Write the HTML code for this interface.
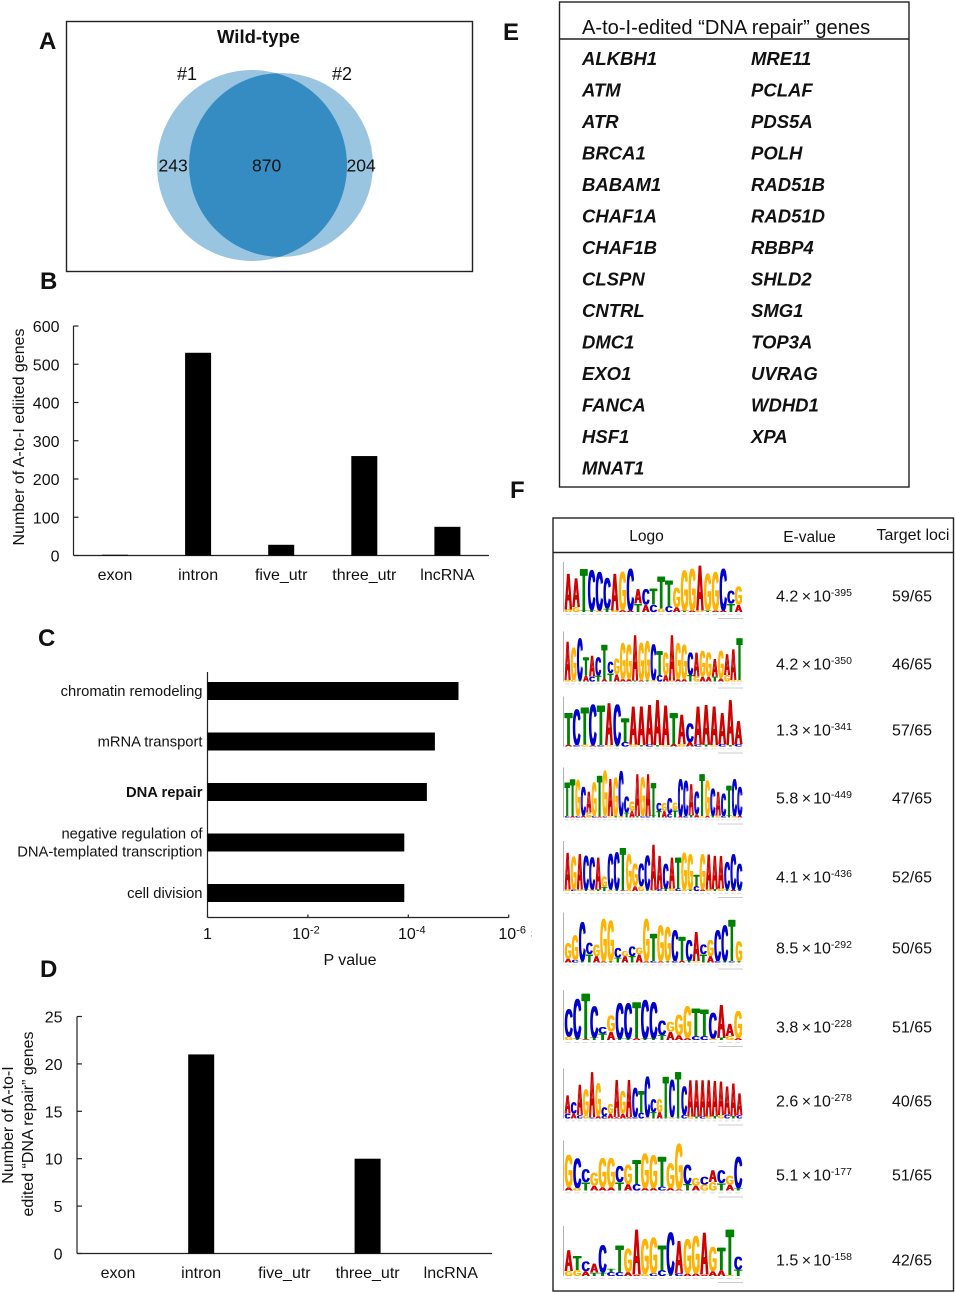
<!DOCTYPE html>
<html lang="en">
<head>
<meta charset="utf-8">
<title>A-to-I editing figure</title>
<style>
html,body{margin:0;padding:0;background:#fff;}
svg{display:block;position:absolute;left:0;top:0;}
text{font-family:"Liberation Sans",Arial,sans-serif;fill:#111;}
.plabel{font-size:24px;font-weight:bold;fill:#111;}
.gene{font-size:18.5px;font-weight:bold;font-style:italic;fill:#111;}
.logo-letter{font-weight:bold;font-size:100px;text-anchor:middle;text-rendering:geometricPrecision;}
</style>
</head>
<body>
<svg id="fig" width="955" height="1293" viewBox="0 0 955 1293" xmlns="http://www.w3.org/2000/svg">
  <defs>
    <clipPath id="clip-left"><ellipse cx="252" cy="165.5" rx="95" ry="95.5"/></clipPath>
    <filter id="soft" x="-2%" y="-4%" width="104%" height="108%">
      <feOffset in="SourceGraphic" dx="1" dy="0" result="shifted"/>
      <feMerge result="fat"><feMergeNode in="SourceGraphic"/><feMergeNode in="shifted"/></feMerge>
      <feGaussianBlur in="fat" stdDeviation="0.35"/>
    </filter>
  </defs>
  <rect width="955" height="1293" fill="#fff"/>

  <text class="plabel" x="39" y="49">A</text>
  <text class="plabel" x="40" y="289">B</text>
  <text class="plabel" x="38" y="646">C</text>
  <text class="plabel" x="40" y="977">D</text>
  <text class="plabel" x="503" y="40">E</text>
  <text class="plabel" x="510" y="498">F</text>

  <g>
    <rect x="66.5" y="21.5" width="406" height="250" fill="none" stroke="#222" stroke-width="1.4"/>
    <text x="217" y="43" font-size="18.5" font-weight="bold">Wild-type</text>
    <ellipse cx="252" cy="165.5" rx="95" ry="95.5" fill="#9ac5e0"/>
    <circle cx="281" cy="165" r="92" fill="#9ac5e0"/>
    <circle cx="281" cy="165" r="92" fill="#358cc2" clip-path="url(#clip-left)"/>
    <text x="177" y="80" font-size="18">#1</text>
    <text x="332" y="80" font-size="18">#2</text>
    <text x="158.500" y="171.500" font-size="17.5">243</text>
    <text x="252" y="171.500" font-size="17.5">870</text>
    <text x="346.500" y="171.500" font-size="17.5">204</text>
  </g>

  <g id="chart-b"></g>
  <g id="chart-c"></g>
  <g id="chart-d"></g>

  <text x="530.500" y="936" font-size="8" style="fill:#999">;</text>

  <g>
    <rect x="559.500" y="2" width="349.500" height="485" fill="none" stroke="#222" stroke-width="1.4"/>
    <line x1="559.500" y1="39" x2="909" y2="39" stroke="#222" stroke-width="1.4"/>
    <text x="582" y="34" font-size="20.100">A-to-I-edited “DNA repair” genes</text>
    <g>
      <text class="gene" x="582" y="65">ALKBH1</text>
      <text class="gene" x="582" y="96.500">ATM</text>
      <text class="gene" x="582" y="128">ATR</text>
      <text class="gene" x="582" y="159.500">BRCA1</text>
      <text class="gene" x="582" y="191">BABAM1</text>
      <text class="gene" x="582" y="222.500">CHAF1A</text>
      <text class="gene" x="582" y="254">CHAF1B</text>
      <text class="gene" x="582" y="285.500">CLSPN</text>
      <text class="gene" x="582" y="317">CNTRL</text>
      <text class="gene" x="582" y="348.500">DMC1</text>
      <text class="gene" x="582" y="380">EXO1</text>
      <text class="gene" x="582" y="411.500">FANCA</text>
      <text class="gene" x="582" y="443">HSF1</text>
      <text class="gene" x="582" y="474.500">MNAT1</text>
    </g>
    <g>
      <text class="gene" x="751" y="65">MRE11</text>
      <text class="gene" x="751" y="96.500">PCLAF</text>
      <text class="gene" x="751" y="128">PDS5A</text>
      <text class="gene" x="751" y="159.500">POLH</text>
      <text class="gene" x="751" y="191">RAD51B</text>
      <text class="gene" x="751" y="222.500">RAD51D</text>
      <text class="gene" x="751" y="254">RBBP4</text>
      <text class="gene" x="751" y="285.500">SHLD2</text>
      <text class="gene" x="751" y="317">SMG1</text>
      <text class="gene" x="751" y="348.500">TOP3A</text>
      <text class="gene" x="751" y="380">UVRAG</text>
      <text class="gene" x="751" y="411.500">WDHD1</text>
      <text class="gene" x="751" y="443">XPA</text>
    </g>
  </g>

  <g>
    <rect x="553" y="518" width="400.500" height="773" fill="none" stroke="#222" stroke-width="1.4"/>
    <line x1="553" y1="552.500" x2="953.500" y2="552.500" stroke="#222" stroke-width="1.4"/>
    <text x="646.500" y="541" font-size="15.500" text-anchor="middle">Logo</text>
    <text x="809.500" y="542" font-size="15.500" text-anchor="middle">E-value</text>
    <text x="913" y="540" font-size="16" text-anchor="middle">Target loci</text>
    <g id="logos"></g>
    <g id="rows"></g>
  </g>
</svg>

<script>
// Panel B data
const bCategories = ["exon", "intron", "five_utr", "three_utr", "lncRNA"];
const bValues = [2, 530, 28, 260, 75];
const bTicks = [0, 100, 200, 300, 400, 500, 600];

// Panel C data (exponent n in P = 10^-n)
const cCategories = [["chromatin remodeling"], ["mRNA transport"], ["DNA repair"], ["negative regulation of", "DNA-templated transcription"], ["cell division"]];
const cExponents = [5.0, 4.53, 4.37, 3.92, 3.92];
const cTicks = [0, 2, 4, 6];

// Panel D data
const dCategories = ["exon", "intron", "five_utr", "three_utr", "lncRNA"];
const dValues = [0, 21, 0, 10, 0];
const dTicks = [0, 5, 10, 15, 20, 25];

// Panel F data: statistics
const fMantissas = ["4.2", "4.2", "1.3", "5.8", "4.1", "8.5", "3.8", "2.6", "5.1", "1.5"];
const fExponents = ["-395", "-350", "-341", "-449", "-436", "-292", "-228", "-278", "-177", "-158"];
const fTargets = ["59/65", "46/65", "57/65", "47/65", "52/65", "50/65", "51/65", "40/65", "51/65", "42/65"];

// Panel F data: logos. Stack heights are relative, 150 = 2 bits.
const logoUpper = [
  "AATCCCAGCACTTTGGGAGGCCG",
  "AGCTACTCGGGAGGCTGAGGCAGGAGAAT",
  "TCTCTACTAAAAATACAAAAAA",
  "TTGCAGTGAGCCGAGATCGCGCCACTGCACTCC",
  "AGACCAGCCTGGCCAACATGGTGAAACCC",
  "GGCCGGGCGCGGTGGCTCACGCCTG",
  "CCTCCGCCTCCCGGGTTCAAG",
  "ACAGAGCGAGACTCCGTCTCAAAAAAAAA",
  "GCCGGGCGTGGTGGCGCACGC",
  "ATCACTTGAGGTCAGGAGTTC"
];
const logoTotals = [
  [120,105,135,130,125,105,120,125,135,70,70,72,110,98,75,130,135,145,120,125,135,65,78],
  [125,105,135,75,80,75,115,60,70,120,115,145,120,125,115,95,90,145,120,115,90,90,95,90,70,95,85,100,135],
  [105,115,122,130,128,135,130,88,125,125,130,145,128,105,100,72,125,130,125,105,145,80],
  [110,120,118,95,80,110,130,145,120,125,145,65,50,135,125,135,108,45,45,60,45,120,115,105,80,135,115,90,80,75,100,120,95],
  [120,108,115,110,105,105,45,115,120,135,115,85,85,110,145,110,85,105,105,120,115,50,115,115,110,110,90,115,85],
  [60,85,125,60,55,135,130,45,35,50,45,135,90,115,110,100,80,70,95,55,70,100,115,133,65],
  [95,128,145,105,40,75,115,115,118,125,118,60,55,78,105,98,95,85,110,50,90],
  [72,50,105,90,145,110,35,45,120,85,120,95,85,130,60,60,130,120,145,100,120,120,120,120,118,115,100,110,78],
  [110,100,65,55,100,100,75,80,95,115,110,105,85,145,80,38,42,62,62,45,105],
  [80,62,45,38,95,22,95,85,145,115,120,95,135,110,115,125,135,90,88,145,60]
];
const logoLower = [
  "GGTTGTGAATACGCATAGTAATA",
  "GGTACTATAAATATGCAGAATGAATAGGG",
  "ACGACGTCGTCTGAGACTGCTC",
  "CACAGCACGTGTATCCTTACTACTAGATGCTGA",
  "GCGTGTTGTAGAGTGCTGCGTCAGTGTAT",
  "ACTTAATTATAACATCATGTACTCT",
  "GTATTATTATTTAAACCGTGA",
  "CACGCACAAAACCGTATGTCGTCGTGCTC",
  "AGTAAATACAACAATAGGTAT",
  "GGATTCCAAGCCTCAAAAAGT"
];
const logoLowerHeights = [
  [8,15,5,6,5,10,5,6,5,25,22,22,10,18,15,5,5,4,5,5,5,25,22],
  [5,6,5,18,15,18,8,25,22,8,8,3,4,4,4,20,20,3,8,8,20,15,15,15,15,10,20,4,4],
  [6,4,6,4,4,4,4,14,6,4,6,4,4,8,8,14,6,6,4,8,4,8],
  [5,5,5,6,15,5,4,4,4,5,5,15,20,4,4,4,8,20,20,12,22,5,5,8,10,4,6,6,6,5,8,5,6],
  [5,5,4,5,5,5,12,4,4,3,5,15,15,4,3,6,8,8,8,5,5,15,5,5,6,8,6,5,5],
  [12,8,4,25,20,4,4,15,20,20,25,4,5,4,4,4,6,6,4,25,20,4,4,4,4],
  [10,5,3,8,20,25,5,5,6,5,5,15,25,15,6,12,12,5,8,12,6],
  [15,15,10,10,4,8,8,15,4,15,4,4,18,4,20,20,4,4,4,12,6,6,6,6,8,10,12,8,10],
  [10,8,25,15,10,10,25,20,20,8,8,12,8,4,20,15,18,25,22,18,8],
  [15,18,15,10,10,12,12,12,4,6,8,18,4,8,8,8,4,15,18,3,20]
];

const SVGNS = "http://www.w3.org/2000/svg";
function el(tag, attrs, parent, txt) {
  const n = document.createElementNS(SVGNS, tag);
  for (const k in attrs) n.setAttribute(k, attrs[k]);
  if (txt !== undefined) n.textContent = txt;
  parent.appendChild(n);
  return n;
}
function slug(s) { return String(s).toLowerCase().replace(/[^a-z0-9]+/g, "-"); }

function columnChart(parentId, cats, vals, ticks, g) {
  const parent = document.getElementById(parentId);
  const yScale = v => g.y0 - (v - ticks[0]) / (ticks[ticks.length - 1] - ticks[0]) * (g.y0 - g.yTop);
  const xScale = i => g.x0cat + i * g.step;
  const yAxis = el("line", {x1: g.ax, y1: g.yTop, x2: g.ax, y2: g.y0, stroke: "#222", "stroke-width": 1.2}, parent);
  
  
  const xAxis = el("line", {x1: g.ax, y1: g.y0, x2: g.axEnd, y2: g.y0, stroke: "#222", "stroke-width": 1.2}, parent);
  
  
  ticks.forEach(t => {
    const y = yScale(t);
    const tick = el("line", {x1: g.ax, y1: y, x2: g.ax + 5, y2: y, stroke: "#222", "stroke-width": 1.2}, parent);
    
    
    const lab = el("text", {x: g.tickRight, y: y + 6, "font-size": 16, "text-anchor": "end"}, parent, String(t));
    
    
  });
  cats.forEach((c, i) => {
    const top = yScale(vals[i]);
    const bar = el("rect", {x: xScale(i) - 13, y: top, width: 26, height: g.y0 - top, fill: "#000"}, parent);
    
    
    const lab = el("text", {x: xScale(i), y: g.catY, "font-size": 16, "text-anchor": "middle"}, parent, c);
    
    
  });
}

columnChart("chart-b", bCategories, bValues, bTicks, {ax: 73.5, axEnd: 489, y0: 555.5, yTop: 326, x0cat: 115, step: 83.1, tickRight: 59.5, catY: 580});
columnChart("chart-d", dCategories, dValues, dTicks, {ax: 77, axEnd: 492, y0: 1253.5, yTop: 1016.5, x0cat: 118, step: 83.2, tickRight: 62.5, catY: 1278});

// Axis titles B and D
const bTitle = el("text", {transform: "translate(24 437) rotate(-90)", "font-size": 16, "text-anchor": "middle"}, document.getElementById("chart-b"), "Number of A-to-I ediited genes");


const dTitle1 = el("text", {transform: "translate(13 1125) rotate(-90)", "font-size": 16, "text-anchor": "middle"}, document.getElementById("chart-d"), "Number of A-to-I");


const dTitle2 = el("text", {transform: "translate(33 1124) rotate(-90)", "font-size": 16, "text-anchor": "middle"}, document.getElementById("chart-d"), "edited “DNA repair” genes");



// Panel C
(function () {
  const p = document.getElementById("chart-c");
  const ax = 207.5, decade = 50.2, yTop = 672, y0 = 917.5, firstY = 691, stepY = 50.5;
  const labelNudge = {0: 0, 2: -2, 4: 3.5, 6: 3.5};
  const xScale = e => ax + e * decade;
  const yScale = i => firstY + i * stepY;
  const yAxis = el("line", {x1: ax, y1: yTop, x2: ax, y2: y0, stroke: "#222", "stroke-width": 1.2}, p);
  
  
  const xAxis = el("line", {x1: ax, y1: y0, x2: xScale(cTicks[cTicks.length - 1]), y2: y0, stroke: "#222", "stroke-width": 1.2}, p);
  
  
  cTicks.forEach(t => {
    const x = xScale(t);
    const tick = el("line", {x1: x, y1: y0 - 3, x2: x, y2: y0, stroke: "#222", "stroke-width": 1.2}, p);
    
    
    const lab = el("text", {x: x + labelNudge[t], y: 939, "font-size": 16, "text-anchor": "middle"}, p, t === 0 ? "1" : "10");
    
    
    if (t !== 0) {
      const s = el("tspan", {dy: -5.5, "font-size": 11}, lab, "-" + t);
      
      
    }
  });
  cCategories.forEach((c, i) => {
    const y = yScale(i);
    const bar = el("rect", {x: ax, y: y - 9, width: xScale(cExponents[i]) - ax, height: 18, fill: "#000"}, p);
    
    
    c.forEach((line, j) => {
      const ly = y + 5 + (j - (c.length - 1) / 2) * 18;
      const attrs = {x: 202.5, y: ly, "font-size": 14.75, "text-anchor": "end"};
      if (line === "DNA repair") attrs["font-weight"] = "bold";
      const lab = el("text", attrs, p, line);
      
      
    });
  });
  const title = el("text", {x: 350, y: 965, "font-size": 16, "text-anchor": "middle"}, p, "P value");
  
  
})();

// Panel F logos and statistics
const letterColor = {A: "#d00000", C: "#0000cc", G: "#ffb300", T: "#008000"};
const letterAdvance = {A: 0.722, C: 0.722, G: 0.778, T: 0.611};
const logoBaselines = [612, 681.5, 746.5, 817.5, 891, 962.5, 1040, 1118.5, 1190.5, 1276];
const rowBaselines = [601.5, 669.5, 735.5, 803.5, 882.5, 953.5, 1032.5, 1106.5, 1180.5, 1265.5];

function drawLetter(parent, ch, x, w, base, h) {
  const sx = (w - 1) / (letterAdvance[ch] * 100) * 1.06;
  const sy = h / 72;
  const t = el("text", {class: "logo-letter", transform: "translate(" + x + " " + base + ") scale(" + sx + " " + sy + ")", style: "fill:" + letterColor[ch]}, parent, ch);
  return t;
}

(function () {
  const logos = document.getElementById("logos");
  const rows = document.getElementById("rows");
  const left = 564, right = 742;
  const heightScale = v => v / 150 * 50;
  logoUpper.forEach((seq, r) => {
    const base = logoBaselines[r];
    const axis = el("line", {x1: 563.5, y1: base - 50, x2: 563.5, y2: base, stroke: "#aaa", "stroke-width": 0.9}, logos);
    
    
    const w = (right - left) / seq.length;
    for (let i = 0; i < seq.length; i++) {
      const cx = left + (i + 0.5) * w;
      const mark = el("rect", {x: cx - w * 0.3, y: base + 2, width: w * 0.6, height: 0.8, fill: "#d4d4d4"}, logos);
      
      
    }
    const stamp = el("rect", {x: 718, y: base + 6, width: 25, height: 1, fill: "#ccc"}, logos);
    
    

    const g = el("g", {filter: "url(#soft)"}, logos);
    
    
    for (let i = 0; i < seq.length; i++) {
      const cx = left + (i + 0.5) * w;
      const lowH = heightScale(logoLowerHeights[r][i]);
      const totalH = heightScale(logoTotals[r][i]);
      const low = drawLetter(g, logoLower[r][i], cx, w, base, lowH);
      
      
      const up = drawLetter(g, seq[i], cx, w, base - lowH, totalH - lowH);
      
      
    }

    const y = rowBaselines[r];
    const ev = el("text", {x: 776, y: y, "font-size": 16}, rows, fMantissas[r]);
    
    
    const times = el("tspan", {dx: 3.5}, ev, "×");
    
    
    const ten = el("tspan", {dx: 2}, ev, "10");
    
    
    const sup = el("tspan", {dy: -5.5, "font-size": 10.5}, ev, fExponents[r]);
    
    
    const loci = el("text", {x: 912, y: y, "font-size": 16, "text-anchor": "middle"}, rows, fTargets[r]);
    
    
  });
})();
</script>
</body>
</html>
